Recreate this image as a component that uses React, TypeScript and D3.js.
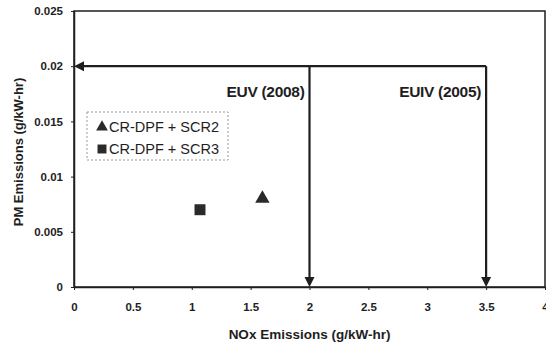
import React, { useEffect, useRef } from 'react';
import { select, scaleLinear, axisBottom, axisLeft, symbol, symbolTriangle, symbolSquare } from 'd3';

const xTicks = [0, 0.5, 1, 1.5, 2, 2.5, 3, 3.5, 4];
const yTicks = [0, 0.005, 0.01, 0.015, 0.02, 0.025];
const seriesNames = ['CR-DPF + SCR2', 'CR-DPF + SCR3'];
const seriesX = [1.6, 1.07];
const seriesY = [0.008, 0.007];
const limitNames = ['EUV (2008)', 'EUIV (2005)'];
const limitNOx = [2, 3.5];
const limitPM = [0.02, 0.02];

const W = 546;
const H = 346;
const ink = '#1e1e1e';
const font = '"Liberation Sans", Arial, sans-serif';

export default function App() {
  const svgRef = useRef(null);

  useEffect(() => {
    const svg = select(svgRef.current);
    svg.selectAll('*').remove();

    const x = scaleLinear().domain([0, 4]).range([74, 545]);
    const y = scaleLinear().domain([0, 0.025]).range([287, 11]);

    svg.append('rect').attr('width', W).attr('height', H).attr('fill', '#fff');

    // frame
    svg
      .append('rect')
      .attr('x', x(0))
      .attr('y', y(0.025))
      .attr('width', x(4) - x(0))
      .attr('height', y(0) - y(0.025))
      .attr('fill', 'none')
      .attr('stroke', ink)
      .attr('stroke-width', 1.5);

    const xAxis = axisBottom(x).tickValues(xTicks).tickSize(3).tickSizeOuter(0).tickFormat((d) => String(d));
    svg
      .append('g')
      .attr('transform', `translate(0,${y(0)})`)
      .call(xAxis)
      .call((g) => g.select('.domain').attr('stroke', ink).attr('stroke-width', 1.5))
      .call((g) => g.selectAll('.tick line').attr('stroke', ink))
      .call((g) =>
        g
          .selectAll('.tick text')
          .attr('y', 16)
          .attr('fill', ink)
          .attr('font-family', font)
          .attr('font-weight', 'bold')
          .attr('font-size', 11.5)
      );

    const yAxis = axisLeft(y).tickValues(yTicks).tickSize(3).tickSizeOuter(0).tickFormat((d) => String(d));
    svg
      .append('g')
      .attr('transform', `translate(${x(0)},0)`)
      .call(yAxis)
      .call((g) => g.select('.domain').attr('stroke', ink).attr('stroke-width', 1.5))
      .call((g) => g.selectAll('.tick line').attr('stroke', ink))
      .call((g) =>
        g
          .selectAll('.tick text')
          .attr('x', -11)
          .attr('fill', ink)
          .attr('font-family', font)
          .attr('font-weight', 'bold')
          .attr('font-size', 11.5)
      );

    // limit lines
    const lim = svg.append('g').attr('stroke', ink).attr('stroke-width', 2.2).attr('fill', 'none');
    const maxNOx = Math.max(...limitNOx);
    lim
      .append('line')
      .attr('x1', x(maxNOx))
      .attr('x2', x(0) + 8)
      .attr('y1', y(limitPM[0]))
      .attr('y2', y(limitPM[0]));
    svg
      .append('path')
      .attr('d', `M${x(0)},${y(limitPM[0])} l10,-5 l0,10 z`)
      .attr('fill', ink);
    limitNOx.forEach((v, i) => {
      lim
        .append('line')
        .attr('x1', x(v))
        .attr('x2', x(v))
        .attr('y1', y(limitPM[i]))
        .attr('y2', y(0) - 8);
      svg
        .append('path')
        .attr('d', `M${x(v)},${y(0)} l-5,-10 l10,0 z`)
        .attr('fill', ink);
      svg
        .append('text')
        .attr('x', x(v) - 5)
        .attr('y', 97)
        .attr('text-anchor', 'end')
        .attr('font-family', font)
        .attr('font-weight', 'bold')
        .attr('font-size', 15.5)
        .attr('letter-spacing', -0.3)
        .attr('fill', ink)
        .text(limitNames[i]);
    });

    // points
    const shapes = [symbolTriangle, symbolSquare];
    seriesNames.forEach((n, i) => {
      svg
        .append('path')
        .attr('d', symbol(shapes[i], i === 0 ? 90 : 120)())
        .attr('transform', `translate(${x(seriesX[i])},${y(seriesY[i])})`)
        .attr('fill', '#2a2a2a');
    });

    // legend
    const lg = svg.append('g').attr('transform', 'translate(87,112)');
    lg.append('rect')
      .attr('width', 141)
      .attr('height', 48)
      .attr('fill', '#fff')
      .attr('stroke', '#999')
      .attr('stroke-dasharray', '2,2');
    seriesNames.forEach((n, i) => {
      lg.append('path')
        .attr('d', symbol(shapes[i], i === 0 ? 60 : 80)())
        .attr('transform', `translate(15,${15 + i * 22})`)
        .attr('fill', '#2a2a2a');
      lg.append('text')
        .attr('x', 22)
        .attr('y', 20 + i * 22)
        .attr('font-family', font)
        .attr('font-size', 14.5)
        .attr('fill', ink)
        .text(n);
    });

    // axis titles
    svg
      .append('text')
      .attr('x', x(2))
      .attr('y', 339)
      .attr('text-anchor', 'middle')
      .attr('font-family', font)
      .attr('font-weight', 'bold')
      .attr('font-size', 13.5)
      .attr('fill', ink)
      .text('NOx Emissions (g/kW-hr)');
    svg
      .append('text')
      .attr('transform', `translate(23,${y(0.0125) + 3}) rotate(-90)`)
      .attr('text-anchor', 'middle')
      .attr('font-family', font)
      .attr('font-weight', 'bold')
      .attr('font-size', 13)
      .attr('fill', ink)
      .text('PM Emissions (g/kW-hr)');
  }, []);

  return (
    <svg
      ref={svgRef}
      width={W}
      height={H}
      style={{ position: 'absolute', left: 0, top: 0 }}
    />
  );
}
